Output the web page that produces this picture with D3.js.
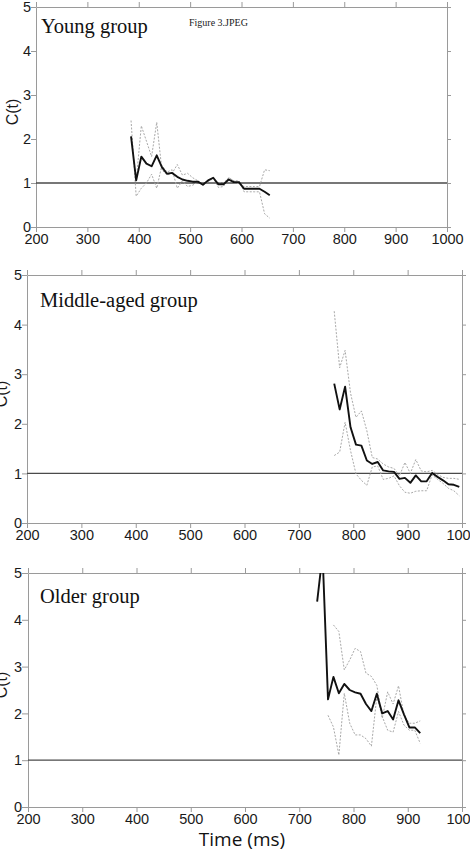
<!DOCTYPE html>
<html><head><meta charset="utf-8">
<script src="https://cdn.jsdelivr.net/npm/d3@7/dist/d3.min.js"></script>
<style>
html,body{margin:0;padding:0;background:#fff;}
svg{display:block;}
</style></head>
<body>
<svg id="chart" width="470" height="850"></svg>
<script>
// ---------- DATA ----------
const xTicks = [200, 300, 400, 500, 600, 700, 800, 900, 1000];
const yTicks = [0, 1, 2, 3, 4, 5];
const panelTitles = ["Young group", "Middle-aged group", "Older group"];

// Young group
const youngTime  = [385,395,405,415,425,435,445,455,465,475,485,495,505,515,525,535,545,555,565,575,585,595,605,615,625,635,645,655];
const youngMean  = [2.06,1.06,1.60,1.44,1.38,1.63,1.36,1.21,1.23,1.14,1.08,1.05,1.03,1.03,0.96,1.06,1.12,0.97,0.97,1.08,1.02,1.02,0.87,0.87,0.87,0.87,0.80,0.72];
const youngDotATime = [385,395,405,415,425,435,445,455,465,475,485,495,505,515,525,535,545,555,565,575,585,595,605,615,625,635,645,655];
const youngDotA  = [2.42,0.70,0.88,1.00,1.20,0.88,1.40,1.25,1.30,0.88,1.05,0.92,0.95,1.02,0.95,1.05,1.12,0.90,0.92,1.12,1.05,1.05,0.80,0.80,0.80,0.80,0.30,0.20];
const youngDotBTime = [395,405,415,425,435,445,455,465,475,485,495,505,515,525,535,545,555,565,575,585,595,605,615,625,635,645,655];
const youngDotB  = [1.05,2.30,1.95,1.60,2.38,1.30,1.18,1.22,1.42,1.18,1.22,1.12,1.05,0.97,1.03,1.10,1.00,1.00,1.12,1.05,0.98,0.92,0.92,0.92,0.92,1.30,1.28];

// Middle-aged group
const midTime  = [765,775,785,795,805,815,825,835,845,855,865,875,885,895,905,915,925,935,945,955,965,975,985,995];
const midMean  = [2.81,2.29,2.75,1.93,1.58,1.56,1.26,1.19,1.23,1.06,1.04,1.03,0.89,0.91,0.81,0.96,0.84,0.84,1.01,0.93,0.86,0.78,0.77,0.73];
const midDotA  = [4.27,3.13,3.48,2.62,2.13,2.26,1.86,1.32,1.29,1.19,1.13,1.10,0.95,1.22,1.00,1.28,1.05,1.03,1.06,0.98,0.92,0.90,0.90,0.88];
const midDotB  = [1.36,1.43,2.03,1.46,0.99,0.86,0.76,1.13,1.15,0.88,0.90,0.95,0.75,0.62,0.60,0.64,0.65,0.65,0.97,0.88,0.80,0.70,0.65,0.55];

// Older group
const oldTime  = [733,743,753,763,773,783,793,803,813,823,833,843,853,863,873,883,893,903,913,923];
const oldMean  = [4.39,5.40,2.30,2.78,2.43,2.63,2.50,2.45,2.42,2.20,2.05,2.42,2.00,2.05,1.87,2.28,1.98,1.70,1.70,1.58];
const oldDotATime = [763,773,783,793,803,813,823,833,843,853,863,873,883,893,903,913,923];
const oldDotA  = [3.89,3.75,2.93,3.14,3.39,3.32,2.86,2.79,2.60,1.90,2.46,2.20,2.59,1.96,1.79,1.79,1.84];
const oldDotBTime = [753,763,773,783,793,803,813,823,833,843,853,863,873,883,893,903,913,923];
const oldDotB  = [1.96,1.71,1.11,2.43,1.79,1.54,1.54,1.46,1.30,2.36,1.93,1.64,1.60,2.04,1.75,1.64,1.64,1.36];

// ---------- LAYOUT ----------
const panels = [
  {title: panelTitles[0], left: 36, right: 447, top: 7, bottom: 227, tickLabelX: 31, ylabX: 18, titleX: 41, titleY: 33,
   mean: [youngTime, youngMean], dots: [[youngDotATime, youngDotA], [youngDotBTime, youngDotB]], fig: true},
  {title: panelTitles[1], left: 27, right: 462, top: 275, bottom: 523, tickLabelX: 22, ylabX: 7, titleX: 40, titleY: 307,
   mean: [midTime, midMean], dots: [[midTime, midDotA], [midTime, midDotB]]},
  {title: panelTitles[2], left: 28, right: 462, top: 573, bottom: 807, tickLabelX: 22, ylabX: 7, titleX: 40, titleY: 603,
   mean: [oldTime, oldMean], dots: [[oldDotATime, oldDotA], [oldDotBTime, oldDotB]], xlabel: true}
];

const svg = d3.select("#chart");
const axisColor = "#9a9a9a";
const sansFont = "'Liberation Sans', Arial, Helvetica, sans-serif";
const serifFont = "'Liberation Serif', 'Times New Roman', serif";

panels.forEach((p, i) => {
  const x = d3.scaleLinear().domain([200, 1000]).range([p.left, p.right]);
  const y = d3.scaleLinear().domain([0, 5]).range([p.bottom, p.top]);
  const g = svg.append("g");

  const clipId = "clip" + i;
  svg.append("clipPath").attr("id", clipId).append("rect")
    .attr("x", p.left).attr("y", p.top).attr("width", p.right - p.left).attr("height", p.bottom - p.top);

  const styleAxis = sel => {
    sel.select(".domain").attr("stroke", axisColor).attr("stroke-width", 1);
    sel.selectAll(".tick line").attr("stroke", axisColor).attr("stroke-width", 1);
    sel.selectAll(".tick text").attr("fill", "#1a1a1a").style("font-family", sansFont).style("font-size", "14.5px");
  };
  g.append("g").attr("transform", `translate(0,${p.bottom})`)
    .call(d3.axisBottom(x).tickValues(xTicks).tickSize(5).tickSizeOuter(0).tickPadding(2).tickFormat(d3.format("d")))
    .call(styleAxis);
  g.append("g").attr("transform", `translate(0,${p.top})`)
    .call(d3.axisTop(x).tickValues(xTicks).tickSize(5).tickSizeOuter(0).tickFormat(""))
    .call(styleAxis);
  g.append("g").attr("transform", `translate(${p.left},0)`)
    .call(d3.axisLeft(y).tickValues(yTicks).tickSize(p.left - p.tickLabelX).tickSizeOuter(0).tickPadding(0).tickFormat(d3.format("d")))
    .call(styleAxis);
  g.append("g").attr("transform", `translate(${p.right},0)`)
    .call(d3.axisRight(y).tickValues(yTicks).tickSize(4).tickSizeOuter(0).tickFormat(""))
    .call(styleAxis);

  g.append("line")
    .attr("x1", p.left).attr("x2", p.right)
    .attr("y1", y(1)).attr("y2", y(1))
    .attr("stroke", "#4a4a4a").attr("stroke-width", 1.3);

  const plot = g.append("g").attr("clip-path", `url(#${clipId})`);
  const line = d3.line().x(d => x(d[0])).y(d => y(d[1]));

  p.dots.forEach(([ts, vs]) => {
    plot.append("path")
      .attr("d", line(ts.map((t, k) => [t, vs[k]])))
      .attr("fill", "none").attr("stroke", "#a8a8a8").attr("stroke-width", 1)
      .attr("stroke-dasharray", "2,1.5");
  });
  plot.append("path")
    .attr("d", line(p.mean[0].map((t, k) => [t, p.mean[1][k]])))
    .attr("fill", "none").attr("stroke", "#111").attr("stroke-width", 1.9)
    .attr("stroke-linejoin", "round");

  g.append("text")
    .attr("transform", `translate(${p.ylabX},${(p.top + p.bottom) / 2 - 5}) rotate(-90)`)
    .attr("text-anchor", "middle")
    .style("font-family", sansFont).style("font-size", "16px").attr("fill", "#1a1a1a")
    .text("C(t)");

  g.append("text")
    .attr("x", p.titleX).attr("y", p.titleY)
    .style("font-family", serifFont).style("font-size", "20.5px").attr("fill", "#111")
    .text(p.title);

  if (p.fig) {
    g.append("text").attr("x", 189).attr("y", 26)
      .style("font-family", serifFont).style("font-size", "10px").attr("fill", "#222")
      .text("Figure 3.JPEG");
  }
  if (p.xlabel) {
    g.append("text").attr("x", 242).attr("y", 846)
      .attr("text-anchor", "middle")
      .style("font-family", "'Open Sans', 'Noto Sans', sans-serif").style("font-size", "19px").attr("fill", "#111")
      .text("Time (ms)");
  }
});
</script>
</body></html>
